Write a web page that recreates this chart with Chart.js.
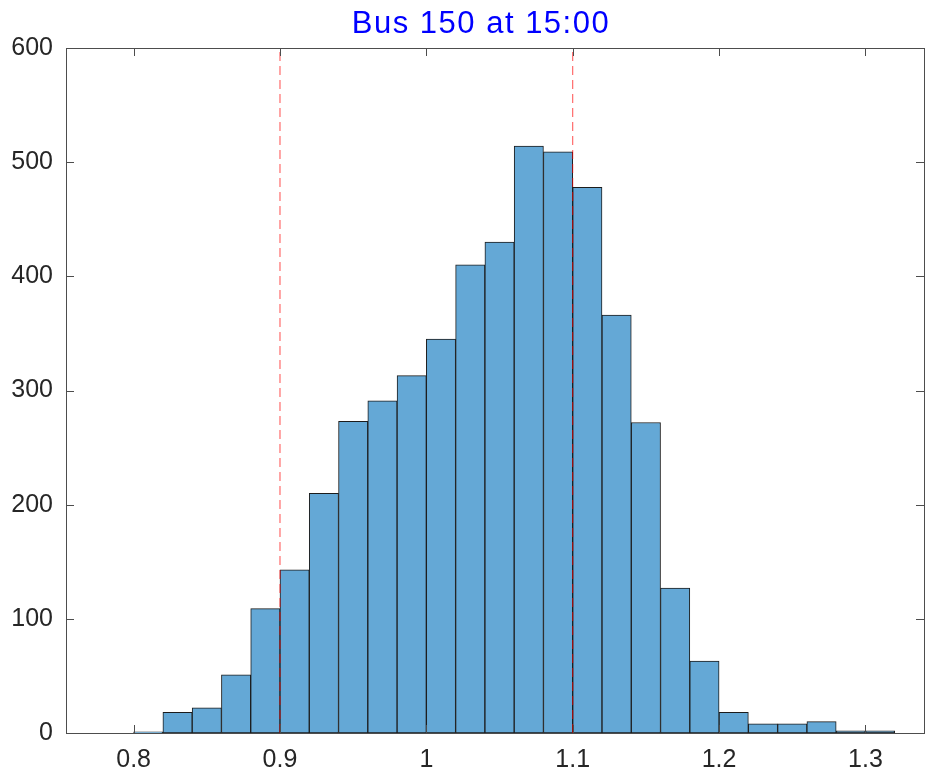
<!DOCTYPE html>
<html>
<head>
<meta charset="utf-8">
<script src="https://cdn.jsdelivr.net/npm/chart.js@4"></script>
<style>
  html, body { margin: 0; padding: 0; background: #fff; }
  #wrap { width: 926px; height: 778px; }
</style>
</head>
<body>
<div id="wrap"><canvas id="hist"></canvas></div>
<script>
/* Histogram: bus 150 voltage */
const titleText = 'Bus 150 at 15:00';

// bin centres (bin width 0.02) and counts
const binCenters = [0.81, 0.83, 0.85, 0.87, 0.89, 0.91, 0.93, 0.95, 0.97, 0.99,
  1.01, 1.03, 1.05, 1.07, 1.09, 1.11, 1.13, 1.15, 1.17, 1.19,
  1.21, 1.23, 1.25, 1.27, 1.29, 1.31];
const counts = [1, 18, 22, 51, 109, 143, 210, 273, 291, 313,
  345, 410, 430, 514, 509, 478, 366, 272, 127, 63,
  18, 8, 8, 10, 2, 2];

// limit lines
const limits = [0.9, 1.1];

const xTicks = [0.8, 0.9, 1, 1.1, 1.2, 1.3];
const yTicks = [0, 100, 200, 300, 400, 500, 600];
const xMin = 0.7538, xMax = 1.34;
const yMin = 0, yMax = 600;

const axisColor = '#4d4d4d';
const textColor = '#262626';
const fontFam = '"Liberation Sans", Arial, Helvetica, sans-serif';

// box around the axes with tick marks pointing inward, plus title
const boxPlugin = {
  id: 'box',
  afterDraw(chart) {
    const ctx = chart.ctx;
    const a = chart.chartArea;
    const xs = chart.scales.x, ys = chart.scales.y;
    ctx.save();
    ctx.strokeStyle = axisColor;
    ctx.lineWidth = 1;
    ctx.strokeRect(Math.round(a.left) + 0.5, Math.round(a.top) + 0.5,
      Math.round(a.right - a.left), Math.round(a.bottom - a.top));
    const tl = 8;
    ctx.beginPath();
    xTicks.forEach(v => {
      const px = Math.round(xs.getPixelForValue(v)) + 0.5;
      ctx.moveTo(px, a.bottom); ctx.lineTo(px, a.bottom - tl);
      ctx.moveTo(px, a.top); ctx.lineTo(px, a.top + tl);
    });
    yTicks.forEach(v => {
      const py = Math.round(ys.getPixelForValue(v)) + 0.5;
      ctx.moveTo(a.left, py); ctx.lineTo(a.left + tl, py);
      ctx.moveTo(a.right, py); ctx.lineTo(a.right - tl, py);
    });
    ctx.stroke();

    ctx.fillStyle = '#0000ff';
    ctx.font = '31px ' + fontFam;
    ctx.letterSpacing = '1.5px';
    ctx.textAlign = 'center';
    ctx.textBaseline = 'alphabetic';
    ctx.fillText(titleText, (a.left + a.right) / 2 - 14, 33);
    ctx.restore();
  }
};

new Chart(document.getElementById('hist'), {
  type: 'bar',
  data: {
    datasets: [
      {
        type: 'line',
        data: [{ x: limits[0], y: yMin }, { x: limits[0], y: yMax }],
        borderColor: 'rgba(255, 0, 0, 0.7)',
        borderWidth: 1,
        borderDash: [9, 5],
        pointRadius: 0,
        order: 0
      },
      {
        type: 'line',
        data: [{ x: limits[1], y: yMin }, { x: limits[1], y: yMax }],
        borderColor: 'rgba(255, 0, 0, 0.7)',
        borderWidth: 1,
        borderDash: [9, 5],
        pointRadius: 0,
        order: 0
      },
      {
        type: 'bar',
        data: binCenters.map((c, i) => ({ x: c, y: counts[i] })),
        backgroundColor: 'rgb(100, 168, 214)',
        borderColor: '#1c1c1c',
        borderWidth: 1,
        borderSkipped: false,
        barPercentage: 1,
        categoryPercentage: 1,
        order: 1
      }
    ]
  },
  options: {
    responsive: true,
    maintainAspectRatio: false,
    animation: false,
    layout: { padding: { top: 48, right: 2, left: 0, bottom: 0 } },
    plugins: {
      legend: { display: false },
      title: { display: false },
      tooltip: { enabled: false }
    },
    scales: {
      x: {
        type: 'linear',
        offset: false,
        min: xMin,
        max: xMax,
        grid: { display: false, drawTicks: false, offset: false },
        border: { display: false },
        afterBuildTicks: s => { s.ticks = xTicks.map(v => ({ value: v })); },
        afterFit: s => { s.height = 45; },
        ticks: {
          padding: 12,
          color: textColor,
          font: { family: fontFam, size: 25 },
          maxRotation: 0,
          callback: v => String(v)
        }
      },
      y: {
        min: yMin,
        max: yMax,
        grid: { display: false, drawTicks: false },
        border: { display: false },
        afterBuildTicks: s => { s.ticks = yTicks.map(v => ({ value: v })); },
        afterFit: s => { s.width = 66; },
        ticks: {
          padding: 13,
          color: textColor,
          font: { family: fontFam, size: 25 },
          callback: v => String(v)
        }
      }
    }
  },
  plugins: [boxPlugin]
});
</script>
</body>
</html>
